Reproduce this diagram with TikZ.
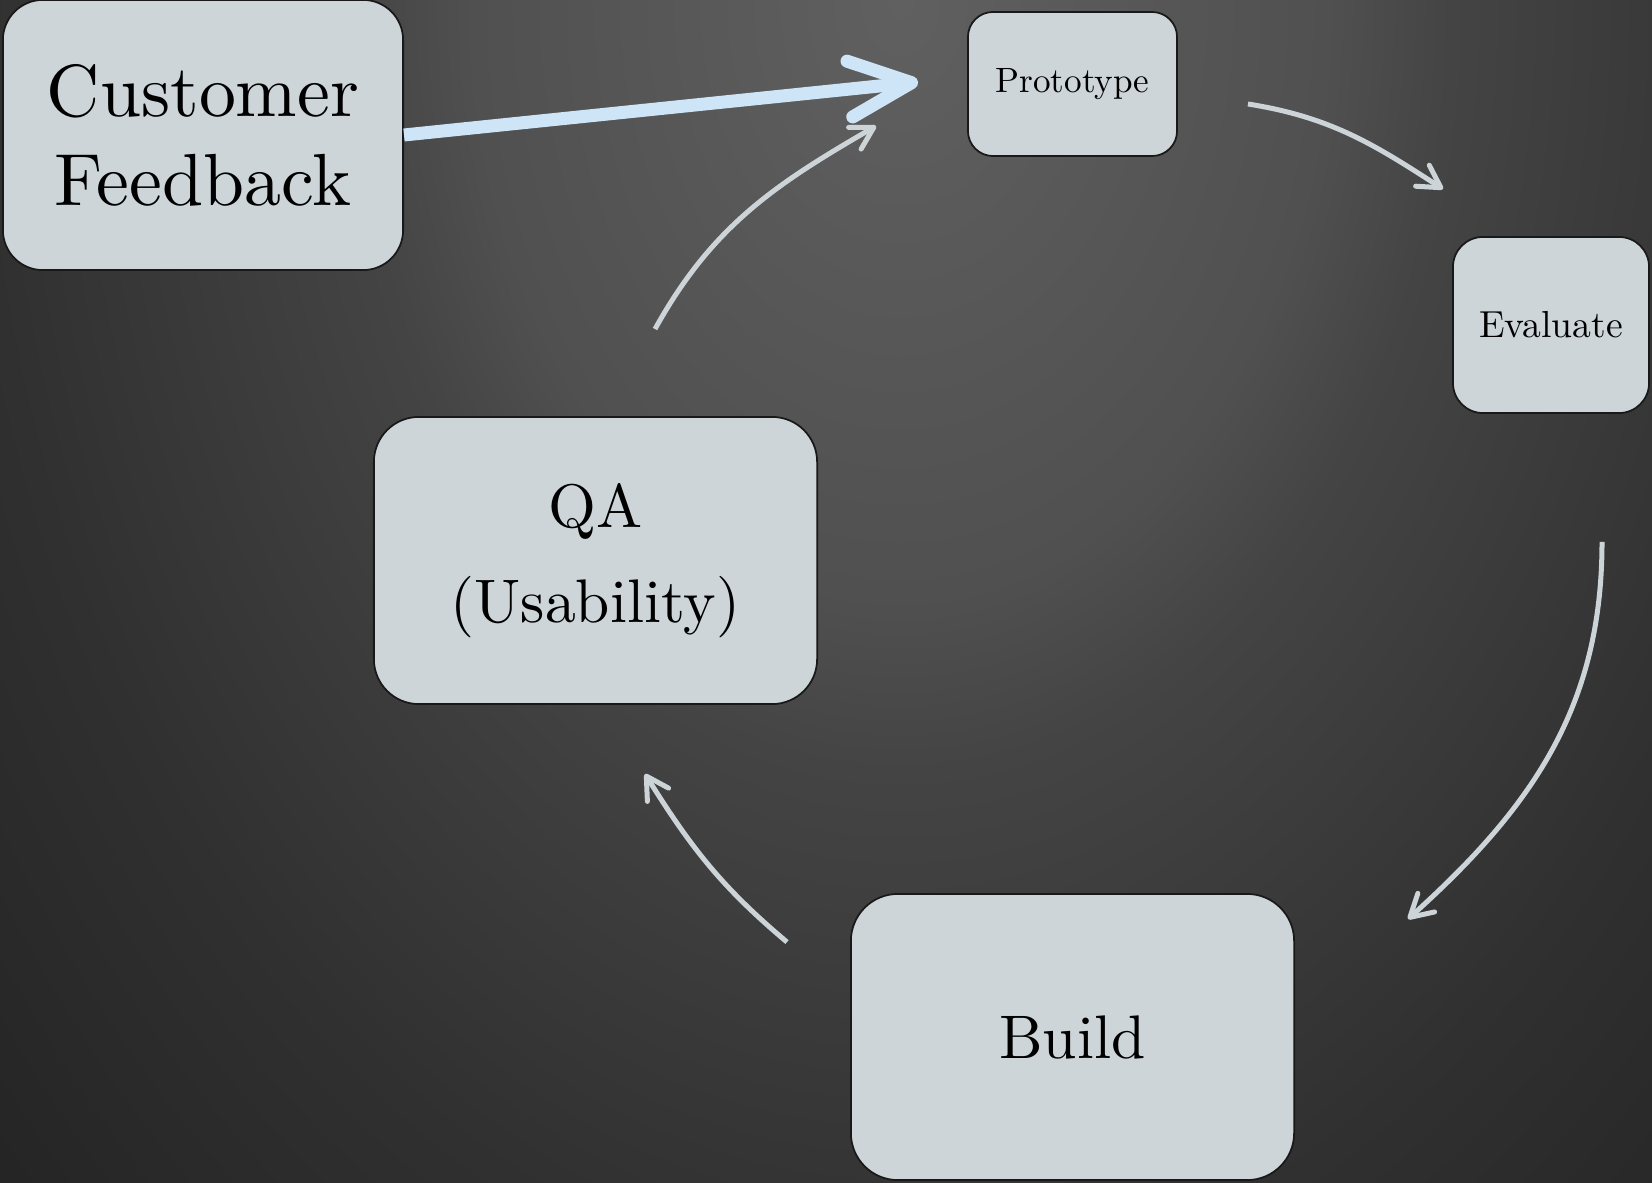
\documentclass[tikz,border=0pt]{standalone}
\usepackage{fontspec}
\setmainfont{lmroman10-regular.otf}
\usetikzlibrary{arrows.meta}
\definecolor{stagefill}{RGB}{205,213,217}
\definecolor{turnline}{RGB}{205,212,216}
\definecolor{feedline}{RGB}{206,229,248}
\definecolor{bgA}{RGB}{96,96,96}
\definecolor{bgB}{RGB}{80,80,80}
\definecolor{bgC}{RGB}{68,68,68}
\definecolor{bgD}{RGB}{48,48,48}
\definecolor{bgE}{RGB}{36,36,36}
\pgfdeclareradialshading{bgglow}{\pgfpointorigin}{%
  color(0bp)=(bgA); color(8.3bp)=(bgB); color(10.7bp)=(bgC);
  color(18bp)=(bgD); color(24.3bp)=(bgE); color(50bp)=(bgE)}
\tikzset{
  stage/.style={draw=black!90, line width=0.5pt, fill=stagefill,
    align=center, inner sep=0pt},
  turn/.style={draw=turnline, line width=0.05cm,
    -{Straight Barb[length=0.22cm,width=0.25cm,round]}},
  feed/.style={draw=feedline, line width=0.13cm,
    -{Straight Barb[length=0.62cm,width=0.56cm,round]}}
}
\begin{document}
\begin{tikzpicture}[x=0.01cm,y=0.01cm]
  \useasboundingbox (0,0) rectangle (1652,-1182);
  \fill[bgE] (0,0) rectangle (1652,-1182);
  \begin{scope}
    \clip (0,0) rectangle (1652,-1182);
    \shade[shading=bgglow] (900,0) ellipse[x radius=12.86cm, y radius=18cm];
  \end{scope}
  \draw
    (203,-135) node[stage, minimum width=4cm, minimum height=2.7cm,
      rounded corners=0.4cm, font=\fontsize{21}{25.3}\selectfont] (cust) {Customer\\Feedback}
    (1072.5,-84) node[stage, minimum width=2.09cm, minimum height=1.44cm,
      rounded corners=0.25cm, font=\fontsize{10}{12}\selectfont] (proto) {Prototype}
    (1551,-325) node[stage, minimum width=1.96cm, minimum height=1.76cm,
      rounded corners=0.3cm, font=\fontsize{10.7}{13}\selectfont] (eval) {Evaluate}
    (595.5,-560.5) node[stage, minimum width=4.43cm, minimum height=2.87cm,
      rounded corners=0.45cm, font=\fontsize{17.5}{27}\selectfont] (qa) {QA\\(Usability)}
    (1072.5,-1037) node[stage, minimum width=4.43cm, minimum height=2.86cm,
      rounded corners=0.47cm, font=\fontsize{17.5}{21}\selectfont] (build) {Build};
  \begin{scope}[turn]
    \draw ([shift={(70,-20)}]proto.east) to[out=-9,in=147] ([shift={(-108,47)}]eval.north);
    \draw ([shift={(51,-128)}]eval.south) to[out=-90,in=42] ([shift={(113,-26)}]build.north east);
    \draw ([shift={(-63,-49)}]build.north west) to[out=140,in=-58] ([shift={(49.5,-69)}]qa.south);
    \draw ([shift={(59.5,87)}]qa.north) to[out=61,in=210] ([shift={(-91,-42)}]proto.west);
  \end{scope}
  \draw[feed] (cust.east) -- ([shift={(-49,2)}]proto.west);
\end{tikzpicture}
\end{document}
